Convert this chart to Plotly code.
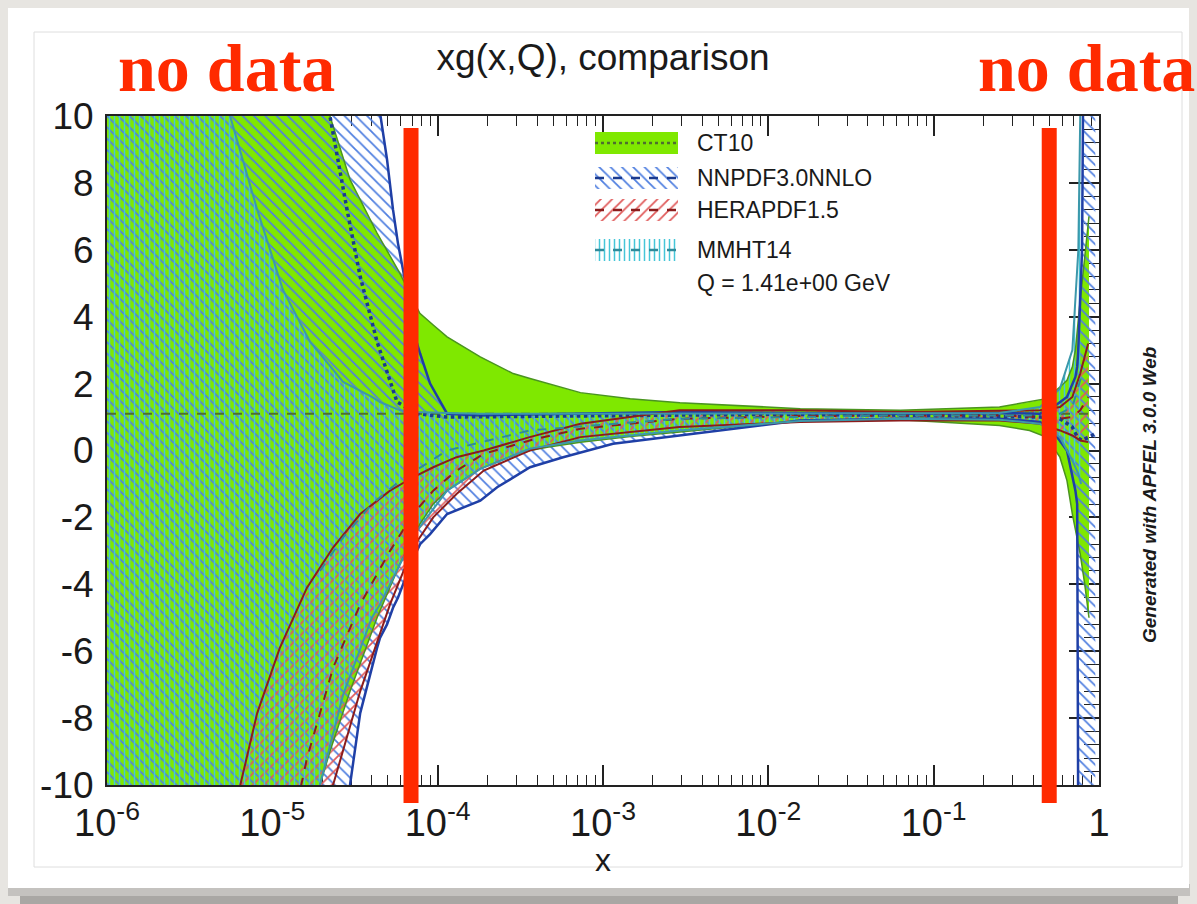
import math
import plotly.graph_objects as go

# ---------------------------------------------------------------- data
X_TICKS = [1e-6, 1e-5, 1e-4, 1e-3, 1e-2, 1e-1, 1]
X_TICK_TEXT = ["10<sup>-6</sup>", "10<sup>-5</sup>", "10<sup>-4</sup>", "10<sup>-3</sup>",
               "10<sup>-2</sup>", "10<sup>-1</sup>", "1"]
Y_TICKS = [-10, -8, -6, -4, -2, 0, 2, 4, 6, 8, 10]
Y_TICK_TEXT = ["-10", "-8", "-6", "-4", "-2", "0", "2", "4", "6", "8", "10"]

NO_DATA_X = [6.9e-5, 0.5]          # edges of the data-covered region

# CT10
ct10_x = [1e-6, 1e-5, 1.94e-5, 2.23e-5, 2.95e-5, 4.3e-5, 5.9e-5, 7.1e-5, 7.8e-5, 9.4e-5,
          1.14e-4, 1.81e-4, 2.86e-4, 3.62e-4, 4.6e-4, 7.3e-4, 1.46e-3, 2.92e-3, 1.56e-2, 6.3e-2,
          0.25, 0.38, 0.48, 0.58, 0.64, 0.69, 0.72, 0.77, 0.82, 0.87]
ct10_up = [14, 14, 11, 10, 8.1, 6.5, 5.3, 4.5, 4.1, 3.75,
           3.4, 2.8, 2.3, 2.15, 2.0, 1.73, 1.55, 1.43, 1.25, 1.2,
           1.3, 1.45, 1.55, 1.9, 2.1, 2.5, 3.0, 4.5, 5.8, 7.0]
ct10_lo = [-14, -14, -10, -9.0, -7.2, -5.0, -3.4, -2.6, -2.2, -1.6,
           -1.2, -0.55, -0.15, 0.0, 0.1, 0.25, 0.42, 0.55, 0.9, 0.92,
           0.75, 0.6, 0.4, -0.2, -0.9, -1.9, -2.4, -3.1, -4.0, -5.0]
ct10_cx = [1e-6, 1e-5, 6.9e-5, 1e-3, 1e-1, 0.5, 0.87]
ct10_c = [1.1, 1.1, 1.1, 1.08, 1.08, 1.1, 1.1]

# NNPDF3.0NNLO
nn_x = [1e-6, 2.5e-5, 2.95e-5, 3.4e-5, 4.3e-5, 4.48e-5, 4.94e-5, 5.37e-5, 5.75e-5, 6.18e-5,
        7.5e-5, 7.83e-5, 9.0e-5, 1.14e-4, 1.81e-4, 2.29e-4, 3.62e-4, 5.74e-4, 1.15e-3, 2.92e-3,
        1.56e-2, 6.3e-2, 0.25, 0.44, 0.53, 0.64, 0.72, 0.738, 0.745, 0.752, 0.79, 0.81, 0.95]
nn_up = [14, 14, 14, 14, 11, 10.1, 8.7, 7.2, 6.2, 5.4,
         3.2, 2.9, 2.0, 1.1, 1.05, 1.06, 1.08, 1.1, 1.12, 1.15,
         1.12, 1.1, 1.12, 1.1, 1.3, 1.6, 2.2, 2.5, 2.8, 3.2, 6.0, 14, 14]
nn_lo = [-14, -14, -10, -7.85, -5.9, -5.6, -5.2, -4.7, -4.4, -4.0,
         -3.0, -2.8, -2.5, -1.9, -1.5, -1.1, -0.5, -0.2, 0.2, 0.45,
         0.9, 0.95, 0.95, 0.85, 0.55, 0.0, -1.2, -1.6, -4.0, -14, -14, -14, -14]
nn_cx = [1e-6, 2.0e-5, 2.23e-5, 2.83e-5, 3.4e-5, 4.3e-5, 5.68e-5, 7.5e-5, 1.14e-4, 1e-3,
         1e-2, 0.1, 0.44, 0.58, 0.69, 0.74, 0.79, 0.95]
nn_c = [14, 12, 10, 7.2, 5.2, 3.25, 1.45, 1.1, 1.0, 1.05,
        1.08, 1.05, 1.0, 0.95, 0.7, 0.4, 0.3, 0.5]

# HERAPDF1.5
he_x = [5e-6, 6.4e-6, 8.1e-6, 1.11e-5, 1.62e-5, 2.33e-5, 3.4e-5, 5.15e-5, 7.1e-5, 9.4e-5,
        1.3e-4, 1.9e-4, 3.6e-4, 7.3e-4, 2.9e-3, 1.56e-2, 6.3e-2, 0.25, 0.44, 0.58,
        0.69, 0.77, 0.86]
he_up = [-13, -10, -7.85, -5.9, -4.1, -2.9, -1.9, -1.2, -0.8, -0.5,
         -0.2, 0.0, 0.4, 0.8, 1.2, 1.2, 1.15, 1.2, 1.2, 1.3,
         1.6, 2.3, 3.2]
he_lo = [-20, -20, -20, -20, -16, -10, -7.2, -4.6, -2.9, -2.0,
         -1.3, -0.6, 0.0, 0.4, 0.7, 0.85, 0.9, 0.9, 0.8, 0.6,
         0.45, 0.3, 0.25]
he_c = [-20, -18, -16, -13, -9.2, -6.5, -4.6, -3.0, -1.9, -1.2,
        -0.6, -0.1, 0.3, 0.65, 0.95, 1.03, 1.05, 1.05, 1.0, 0.95,
        1.0, 1.2, 1.6]

# MMHT14
mm_x = [1e-6, 5.55e-6, 8.1e-6, 1.16e-5, 1.69e-5, 1.94e-5, 2.68e-5, 4.0e-5, 4.48e-5, 5.92e-5,
        7.5e-5, 1.14e-4, 1.81e-4, 3.6e-4, 7.3e-4, 2.9e-3, 1.56e-2, 6.3e-2, 0.25, 0.44,
        0.58, 0.69, 0.75, 0.77, 0.78]
mm_up = [14, 10, 7.2, 4.8, 3.25, 2.9, 2.05, 1.6, 1.45, 1.2,
         1.15, 1.12, 1.1, 1.1, 1.1, 1.1, 1.1, 1.1, 1.12, 1.3,
         1.85, 3.0, 6.0, 10, 14]
mm_lo = [-14, -14, -14, -14, -14, -10, -7.3, -5.0, -4.6, -3.4,
         -2.4, -1.2, -0.55, 0.05, 0.3, 0.6, 0.88, 0.95, 0.92, 0.8,
         0.4, -0.3, -0.7, -0.9, -1.0]
mm_cx = [1.94e-5, 2.68e-5, 4.0e-5, 5.92e-5, 1.14e-4, 3.6e-4, 2.9e-3, 6.3e-2, 0.44, 0.58, 0.69, 0.78]
mm_c = [-3.6, -2.6, -1.6, -0.9, 0.0, 0.6, 0.95, 1.05, 1.05, 1.1, 1.3, 2.2]

LEGEND_NAMES = ["CT10", "NNPDF3.0NNLO", "HERAPDF1.5", "MMHT14"]
Q_LABEL = "Q = 1.41e+00 GeV"

# ---------------------------------------------------------------- layout geometry
W, H = 1197, 904
PL, PR, PT, PB = 107, 1099, 116, 785


def fx(p):
    return (p - PL) / (PR - PL)


def fy(p):
    return (PB - p) / (PB - PT)


FONT = "Liberation Sans, Arial, sans-serif"
RED = "#ff2a00"
INK = "#1a1a1a"

styles = {
    "CT10": dict(fill="#7fe800", pattern=None, edge="#4a9420", ewidth=1.5,
                 cline="#4e6e30", cdash="dash", cwidth=2),
    "NNPDF3.0NNLO": dict(fill=None, pattern=dict(shape="\\", fgcolor="#4f7fe0", size=8, solidity=0.22),
                         edge="#1f3fa6", ewidth=2.5, cline="#1a3a8f", cdash="dot", cwidth=3.5),
    "HERAPDF1.5": dict(fill=None, pattern=dict(shape="/", fgcolor="#e05a5a", size=8, solidity=0.22),
                       edge="#8b1c1c", ewidth=2, cline="#8b1c1c", cdash="dash", cwidth=2),
    "MMHT14": dict(fill=None, pattern=dict(shape="|", fgcolor="#45c6d8", size=5, solidity=0.3),
                   edge="#3c98ab", ewidth=2, cline="#2f8a9a", cdash="dash", cwidth=2),
}

sets = [
    ("CT10", ct10_x, ct10_up, ct10_lo, ct10_cx, ct10_c),
    ("NNPDF3.0NNLO", nn_x, nn_up, nn_lo, nn_cx, nn_c),
    ("HERAPDF1.5", he_x, he_up, he_lo, he_x, he_c),
    ("MMHT14", mm_x, mm_up, mm_lo, mm_cx, mm_c),
]

fig = go.Figure()


def band_kwargs(st):
    kw = {}
    if st["pattern"] is None:
        kw["fillcolor"] = st["fill"]
    else:
        p = dict(st["pattern"])
        p.update(bgcolor="rgba(0,0,0,0)", fillmode="replace")
        kw["fillcolor"] = "rgba(0,0,0,0)"
        kw["fillpattern"] = p
    return kw


# bands
for name, xs, up, lo, cx, cv in sets:
    st = styles[name]
    fig.add_trace(go.Scatter(x=list(xs) + list(xs)[::-1], y=list(up) + list(lo)[::-1],
                             mode="none", fill="toself", hoverinfo="skip", name=name,
                             **band_kwargs(st)))
# edges and central values
for name, xs, up, lo, cx, cv in sets:
    st = styles[name]
    for ys in (up, lo):
        fig.add_trace(go.Scatter(x=xs, y=ys, mode="lines",
                                 line=dict(color=st["edge"], width=st["ewidth"]),
                                 hoverinfo="skip"))
    fig.add_trace(go.Scatter(x=cx, y=cv, mode="lines",
                             line=dict(color=st["cline"], width=st["cwidth"], dash=st["cdash"]),
                             hoverinfo="skip"))

# ---------------------------------------------------------------- manual legend
LEG_X0, LEG_X1 = fx(595), fx(678)
LEG_ROWS = [fy(143), fy(178), fy(210), fy(250)]
LEG_HALF = (fy(130) - fy(152)) / 2
LEG_TEXT_X = fx(695)
for name, yc in zip(LEGEND_NAMES, LEG_ROWS):
    st = styles[name]
    fig.add_trace(go.Scatter(x=[LEG_X0, LEG_X1, LEG_X1, LEG_X0, LEG_X0],
                             y=[yc - LEG_HALF, yc - LEG_HALF, yc + LEG_HALF, yc + LEG_HALF, yc - LEG_HALF],
                             xaxis="x2", yaxis="y2", mode="none", fill="toself",
                             hoverinfo="skip", **band_kwargs(st)))
    fig.add_trace(go.Scatter(x=[LEG_X0, LEG_X1], y=[yc, yc], xaxis="x2", yaxis="y2", mode="lines",
                             line=dict(color=st["cline"], width=2.5,
                                       dash="dot" if name == "CT10" else "dash"),
                             hoverinfo="skip"))

annotations = []
for name, yc in zip(LEGEND_NAMES, LEG_ROWS):
    annotations.append(dict(x=LEG_TEXT_X, y=yc, xref="paper", yref="paper", text=name,
                            showarrow=False, xanchor="left", yanchor="middle",
                            font=dict(family=FONT, size=23, color=INK)))
annotations.append(dict(x=LEG_TEXT_X, y=fy(283), xref="paper", yref="paper", text=Q_LABEL,
                        showarrow=False, xanchor="left", yanchor="middle",
                        font=dict(family=FONT, size=23, color=INK)))
# x-axis title
annotations.append(dict(x=0.5, y=fy(860), xref="paper", yref="paper", text="x",
                        showarrow=False, xanchor="center", yanchor="middle",
                        font=dict(family=FONT, size=32, color=INK)))
# side text
annotations.append(dict(x=fx(1150), y=fy(495), xref="paper", yref="paper",
                        text="<b><i>Generated with APFEL 3.0.0 Web</i></b>", textangle=-90,
                        showarrow=False, xanchor="center", yanchor="middle",
                        font=dict(family=FONT, size=19, color=INK)))
# "no data" labels
for px_c in (226, 1086):
    annotations.append(dict(x=fx(px_c), y=fy(68), xref="paper", yref="paper",
                            text="<b>no data</b>", showarrow=False,
                            xanchor="center", yanchor="middle",
                            font=dict(family="Liberation Serif, Times New Roman, serif",
                                      size=68, color=RED)))

# ---------------------------------------------------------------- shapes
shapes = [
    # shadow under the card
    dict(type="rect", xref="paper", yref="paper", x0=fx(20), x1=fx(1178), y0=fy(904), y1=fy(884),
         fillcolor="#a9a7a4", line=dict(width=0), layer="below"),
    dict(type="rect", xref="paper", yref="paper", x0=fx(8), x1=fx(1190), y0=fy(896), y1=fy(884),
         fillcolor="#c4c2bf", line=dict(width=0), layer="below"),
    # white card
    dict(type="rect", xref="paper", yref="paper", x0=fx(8), x1=fx(1189), y0=fy(888), y1=fy(8),
         fillcolor="#ffffff", line=dict(width=0), layer="below"),
    # inner frame
    dict(type="rect", xref="paper", yref="paper", x0=fx(34), x1=fx(1182), y0=fy(867), y1=fy(32),
         fillcolor="rgba(0,0,0,0)", line=dict(color="#dedede", width=1), layer="below"),
]
for xv in NO_DATA_X:
    xp = (math.log10(xv) + 6) / 6
    shapes.append(dict(type="line", xref="paper", yref="paper", x0=xp, x1=xp,
                       y0=fy(803), y1=fy(128), line=dict(color=RED, width=15), layer="above"))

fig.update_layout(
    width=W, height=H,
    margin=dict(l=PL, r=W - PR, t=PT, b=H - PB, autoexpand=False),
    paper_bgcolor="#e7e5e1", plot_bgcolor="#ffffff",
    showlegend=False,
    font=dict(family=FONT, color=INK),
    title=dict(text="xg(x,Q), comparison", x=0.5, xref="paper", xanchor="center",
               y=1 - 57 / H, yref="container", yanchor="middle",
               font=dict(family=FONT, size=37, color=INK)),
    xaxis=dict(type="log", range=[-6, 0], tickmode="array", tickvals=X_TICKS, ticktext=X_TICK_TEXT,
               ticks="inside", ticklen=20, tickwidth=1.5, tickcolor="#222",
               showline=True, linecolor="#222", linewidth=2, mirror="allticks",
               showgrid=False, zeroline=False, layer="below traces",
               tickfont=dict(family=FONT, size=38, color=INK), ticklabelstandoff=3,
               minor=dict(dtick="D1", ticks="inside", ticklen=10, tickwidth=1,
                          tickcolor="#222", showgrid=False)),
    yaxis=dict(range=[-10, 10], tickvals=Y_TICKS, ticktext=Y_TICK_TEXT,
               ticks="inside", ticklen=30, tickwidth=1.5, tickcolor="#222",
               showline=True, linecolor="#222", linewidth=2, mirror="allticks",
               showgrid=False, zeroline=False, layer="below traces",
               tickfont=dict(family=FONT, size=37, color=INK), ticklabelstandoff=4,
               minor=dict(dtick=0.4, ticks="inside", ticklen=15, tickwidth=1,
                          tickcolor="#222", showgrid=False)),
    xaxis2=dict(domain=[0, 1], range=[0, 1], visible=False, overlaying="x", anchor="y2"),
    yaxis2=dict(domain=[0, 1], range=[0, 1], visible=False, overlaying="y", anchor="x2"),
    annotations=annotations,
    shapes=shapes,
)

fig.write_html("out.html")
